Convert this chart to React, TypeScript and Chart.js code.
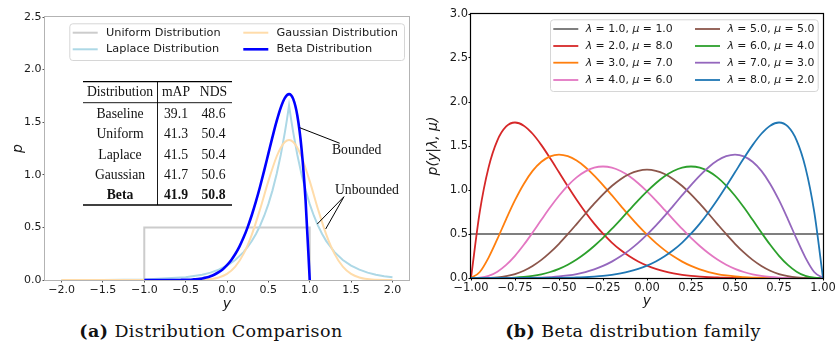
import React, { useEffect, useRef } from 'react';
import { Chart, registerables } from 'chart.js';
Chart.register(...registerables);

// ---------- Left panel data (Distribution Comparison) ----------
const leftXTicks = [-2.0, -1.5, -1.0, -0.5, 0.0, 0.5, 1.0, 1.5, 2.0];
const leftYTicks = [0.0, 0.5, 1.0, 1.5, 2.0, 2.5];
const leftLabels = ['Uniform Distribution', 'Laplace Distribution', 'Gaussian Distribution', 'Beta Distribution'];

const uniformX = [-1.0, -1.0, 1.0, 1.0];
const uniformY = [0.0, 0.5, 0.5, 0.0];

const laplaceX = [-2.0, -1.5, -1.0, -0.5, -0.3, -0.2, -0.1, 0.0, 0.1, 0.2, 0.25, 0.3, 0.35, 0.4, 0.45, 0.5, 0.55, 0.6, 0.65, 0.7, 0.725, 0.75, 0.775, 0.8, 0.85, 0.9, 0.95, 1.0, 1.05, 1.1, 1.15, 1.2, 1.3, 1.4, 1.5, 1.6, 1.7, 1.8, 1.9, 2.0];
const laplaceY = [0.0002, 0.001, 0.005, 0.026, 0.050, 0.070, 0.098, 0.136, 0.190, 0.265, 0.314, 0.370, 0.438, 0.517, 0.611, 0.721, 0.852, 1.007, 1.189, 1.405, 1.527, 1.660, 1.527, 1.405, 1.189, 1.007, 0.852, 0.721, 0.611, 0.517, 0.438, 0.370, 0.265, 0.190, 0.136, 0.098, 0.070, 0.050, 0.036, 0.026];

const gaussX = [-2.0, -1.0, -0.5, -0.25, -0.1, 0.0, 0.1, 0.2, 0.3, 0.4, 0.5, 0.6, 0.65, 0.7, 0.75, 0.8, 0.85, 0.9, 1.0, 1.1, 1.2, 1.3, 1.4, 1.5, 1.6, 1.75, 2.0];
const gaussY = [0.0, 0.0, 0.0002, 0.005, 0.024, 0.058, 0.127, 0.248, 0.432, 0.673, 0.940, 1.174, 1.258, 1.312, 1.330, 1.312, 1.258, 1.174, 0.940, 0.673, 0.432, 0.248, 0.127, 0.058, 0.024, 0.005, 0.0002];

// table
const tableHeader = ['Distribution', 'mAP', 'NDS'];
const tableMethods = ['Baseline', 'Uniform', 'Laplace', 'Gaussian', 'Beta'];
const tableMAP = ['39.1', '41.3', '41.5', '41.7', '41.9'];
const tableNDS = ['48.6', '50.4', '50.4', '50.6', '50.8'];

// ---------- Right panel data (Beta distribution family) ----------
const rightXTicks = [-1.0, -0.75, -0.5, -0.25, 0.0, 0.25, 0.5, 0.75, 1.0];
const rightYTicks = [0.0, 0.5, 1.0, 1.5, 2.0, 2.5, 3.0];
const lambdaVals = ['1.0', '2.0', '3.0', '4.0', '5.0', '6.0', '7.0', '8.0'];
const muVals = ['1.0', '8.0', '7.0', '6.0', '5.0', '4.0', '3.0', '2.0'];

const betaX = [-1.00, -0.95, -0.90, -0.85, -0.80, -0.75, -0.70, -0.65, -0.60, -0.55, -0.50, -0.45, -0.40, -0.35, -0.30, -0.25, -0.20, -0.15, -0.10, -0.05, 0.00, 0.05, 0.10, 0.15, 0.20, 0.25, 0.30, 0.35, 0.40, 0.45, 0.50, 0.55, 0.60, 0.65, 0.70, 0.75, 0.80, 0.85, 0.90, 0.95, 1.00];
const beta11 = [0.5, 0.5, 0.5, 0.5, 0.5, 0.5, 0.5, 0.5, 0.5, 0.5, 0.5, 0.5, 0.5, 0.5, 0.5, 0.5, 0.5, 0.5, 0.5, 0.5, 0.5, 0.5, 0.5, 0.5, 0.5, 0.5, 0.5, 0.5, 0.5, 0.5, 0.5, 0.5, 0.5, 0.5, 0.5, 0.5, 0.5, 0.5, 0.5, 0.5, 0.5];
const beta28 = [0, 0.754, 1.257, 1.564, 1.722, 1.767, 1.731, 1.639, 1.510, 1.360, 1.201, 1.042, 0.889, 0.747, 0.618, 0.503, 0.403, 0.318, 0.247, 0.188, 0.141, 0.103, 0.074, 0.052, 0.035, 0.023, 0.015, 0.009, 0.006, 0.003, 0.002, 0.001, 0, 0, 0, 0, 0, 0, 0, 0, 0];
const beta37 = [0, 0.068, 0.232, 0.444, 0.670, 0.884, 1.069, 1.217, 1.321, 1.382, 1.402, 1.384, 1.334, 1.259, 1.164, 1.056, 0.941, 0.823, 0.706, 0.595, 0.492, 0.399, 0.317, 0.246, 0.186, 0.137, 0.098, 0.068, 0.045, 0.029, 0.017, 0.010, 0.005, 0.003, 0.001, 0, 0, 0, 0, 0, 0];
const beta46 = [0, 0.004, 0.024, 0.072, 0.149, 0.252, 0.377, 0.516, 0.661, 0.803, 0.934, 1.050, 1.144, 1.212, 1.254, 1.267, 1.254, 1.216, 1.156, 1.077, 0.984, 0.882, 0.774, 0.664, 0.557, 0.456, 0.364, 0.281, 0.210, 0.151, 0.104, 0.068, 0.041, 0.023, 0.012, 0.005, 0.002, 0.001, 0, 0, 0];
const beta55 = [0, 0.000, 0.002, 0.007, 0.021, 0.045, 0.083, 0.137, 0.206, 0.291, 0.389, 0.498, 0.613, 0.730, 0.844, 0.951, 1.045, 1.123, 1.182, 1.218, 1.231, 1.218, 1.182, 1.123, 1.045, 0.951, 0.844, 0.730, 0.613, 0.498, 0.389, 0.291, 0.206, 0.137, 0.083, 0.045, 0.021, 0.007, 0.002, 0.000, 0];
const beta64 = [0, 0, 0, 0.001, 0.002, 0.005, 0.012, 0.023, 0.041, 0.068, 0.104, 0.151, 0.210, 0.281, 0.364, 0.456, 0.557, 0.664, 0.774, 0.882, 0.984, 1.077, 1.156, 1.216, 1.254, 1.267, 1.254, 1.212, 1.144, 1.050, 0.934, 0.803, 0.661, 0.516, 0.377, 0.252, 0.149, 0.072, 0.024, 0.004, 0];
const beta73 = [0, 0, 0, 0, 0, 0, 0.001, 0.003, 0.005, 0.010, 0.017, 0.029, 0.045, 0.068, 0.098, 0.137, 0.186, 0.246, 0.317, 0.399, 0.492, 0.595, 0.706, 0.823, 0.941, 1.056, 1.164, 1.259, 1.334, 1.384, 1.402, 1.382, 1.321, 1.217, 1.069, 0.884, 0.670, 0.444, 0.232, 0.068, 0];
const beta82 = [0, 0, 0, 0, 0, 0, 0, 0, 0, 0.001, 0.002, 0.003, 0.006, 0.009, 0.015, 0.023, 0.035, 0.052, 0.074, 0.103, 0.141, 0.188, 0.247, 0.318, 0.403, 0.503, 0.618, 0.747, 0.889, 1.042, 1.201, 1.360, 1.510, 1.639, 1.731, 1.767, 1.722, 1.564, 1.257, 0.754, 0];
const rightCurves = [beta11, beta28, beta37, beta46, beta55, beta64, beta73, beta82];
const rightColors = ['#7f7f7f', '#d62728', '#ff7f0e', '#e377c2', '#8c564b', '#2ca02c', '#9467bd', '#1f77b4'];

// ---------- helpers ----------
const SANS = '"DejaVu Sans"';
const TIMES = '"Liberation Serif"';
const zip = (xs: number[], ys: number[]) => xs.map((x, i) => ({ x, y: ys[i] }));
const fmt = (d: number) => (v: any) => {
  const s = Number(v).toFixed(d);
  return s.startsWith('-') ? '\u2212' + s.slice(1) : s;
};
const setTicks = (vals: number[]) => (s: any) => {
  s.ticks = vals.map((v) => ({ value: v }));
};

function drawMixed(ctx: CanvasRenderingContext2D, text: string, x: number, y: number, size: number) {
  let cx = x;
  for (const ch of text) {
    const it = ch === 'λ' || ch === 'μ';
    ctx.font = `${it ? 'italic ' : ''}${size}px ${SANS}`;
    ctx.fillText(ch, cx, y);
    cx += ctx.measureText(ch).width;
  }
}

function drawLegend(ctx: CanvasRenderingContext2D, datasets: any[], cfg: any) {
  const [x0, y0, x1, y1] = cfg.box;
  ctx.save();
  ctx.beginPath();
  (ctx as any).roundRect(x0 + 0.5, y0 + 0.5, x1 - x0, y1 - y0, 3);
  ctx.fillStyle = 'rgba(255,255,255,0.85)';
  ctx.fill();
  ctx.strokeStyle = '#d6d6d6';
  ctx.lineWidth = 1;
  ctx.stroke();
  datasets.forEach((ds: any, i: number) => {
    const col = Math.floor(i / cfg.rows);
    const row = i % cfg.rows;
    const x = cfg.colX[col];
    const y = cfg.rowY[row];
    ctx.strokeStyle = ds.borderColor;
    ctx.lineWidth = ds.borderWidth;
    ctx.beginPath();
    ctx.moveTo(x, y);
    ctx.lineTo(x + cfg.handleLen, y);
    ctx.stroke();
    ctx.fillStyle = '#1a1a1a';
    ctx.textBaseline = 'middle';
    ctx.textAlign = 'left';
    drawMixed(ctx, ds.label, x + cfg.textOff, y, cfg.size);
  });
  ctx.restore();
}

const leftOverlay = {
  id: 'leftOverlay',
  afterDatasetsDraw(chart: any) {
    const { ctx, chartArea: a, scales } = chart;
    const sx = scales.x;
    const sy = scales.y;
    ctx.save();
    // frame
    ctx.strokeStyle = '#b3b3b3';
    ctx.lineWidth = 1;
    ctx.strokeRect(a.left - 0.5, a.top - 0.5, a.right - a.left + 1, a.bottom - a.top + 1);

    // annotations
    ctx.strokeStyle = '#000';
    ctx.lineWidth = 1;
    const line = (p: number[], q: number[]) => {
      ctx.beginPath();
      ctx.moveTo(sx.getPixelForValue(p[0]), sy.getPixelForValue(p[1]));
      ctx.lineTo(sx.getPixelForValue(q[0]), sy.getPixelForValue(q[1]));
      ctx.stroke();
    };
    line([0.878, 1.448], [1.362, 1.30]);
    line([1.414, 0.792], [1.091, 0.532]);
    line([1.414, 0.792], [1.193, 0.485]);
    ctx.fillStyle = '#111';
    ctx.font = `13.7px ${TIMES}`;
    ctx.textBaseline = 'middle';
    ctx.textAlign = 'left';
    ctx.fillText('Bounded', sx.getPixelForValue(1.269), sy.getPixelForValue(1.229));
    ctx.fillText('Unbounded', sx.getPixelForValue(1.305), sy.getPixelForValue(0.856));

    // table
    const tl = 83, tr = 232, vx = 157.5;
    const topY = 81.7, headY = 102.7, botY = 205;
    ctx.lineWidth = 1.3;
    ctx.beginPath(); ctx.moveTo(tl, topY); ctx.lineTo(tr, topY); ctx.stroke();
    ctx.beginPath(); ctx.moveTo(tl, botY); ctx.lineTo(tr, botY); ctx.stroke();
    ctx.lineWidth = 0.9;
    ctx.beginPath(); ctx.moveTo(tl, headY); ctx.lineTo(tr, headY); ctx.stroke();
    ctx.beginPath(); ctx.moveTo(vx, topY); ctx.lineTo(vx, botY); ctx.stroke();
    const colCx = [120, 176, 213.5];
    ctx.textAlign = 'center';
    ctx.font = `13.7px ${TIMES}`;
    tableHeader.forEach((h, i) => ctx.fillText(h, colCx[i], 92.7));
    const rowY = [114.3, 134.5, 155, 175.2, 195.8];
    tableMethods.forEach((m, r) => {
      ctx.font = `${r === tableMethods.length - 1 ? 'bold ' : ''}13.7px ${TIMES}`;
      ctx.fillText(m, colCx[0], rowY[r]);
      ctx.fillText(tableMAP[r], colCx[1], rowY[r]);
      ctx.fillText(tableNDS[r], colCx[2], rowY[r]);
    });
    ctx.restore();

    drawLegend(ctx, chart.data.datasets, {
      box: [69.3, 23.3, 404, 60],
      colX: [72.7, 243.3],
      rowY: [32.7, 49.3],
      rows: 2,
      handleLen: 25,
      textOff: 33.3,
      size: 11.3,
    });
  },
};

const rightOverlay = {
  id: 'rightOverlay',
  afterDatasetsDraw(chart: any) {
    const { ctx, chartArea: a } = chart;
    ctx.save();
    ctx.strokeStyle = '#000';
    ctx.lineWidth = 1.2;
    ctx.strokeRect(a.left - 0.5, a.top - 0.5, a.right - a.left + 1, a.bottom - a.top + 1);
    ctx.restore();
    drawLegend(ctx, chart.data.datasets, {
      box: [130, 19.3, 397.7, 91],
      colX: [133.3, 275],
      rowY: [29, 46, 62.7, 80],
      rows: 4,
      handleLen: 25,
      textOff: 32.4,
      size: 10.9,
    });
  },
};

function axisCommon(tickFont: number, tickColor: string, tickLen: number, pad: number) {
  return {
    type: 'linear' as const,
    grid: { display: true, drawOnChartArea: false, drawTicks: true, tickLength: tickLen, color: tickColor, lineWidth: 1 },
    border: { display: false },
    ticks: { font: { family: 'DejaVu Sans', size: tickFont }, color: '#1a1a1a', padding: pad, autoSkip: false, maxRotation: 0, minRotation: 0 },
  };
}

export default function App() {
  const leftRef = useRef<HTMLCanvasElement>(null);
  const rightRef = useRef<HTMLCanvasElement>(null);

  useEffect(() => {
    const lc = axisCommon(11, '#555555', 2.5, 1);
    const left = new Chart(leftRef.current!, {
      type: 'line',
      data: {
        datasets: [
          { label: leftLabels[0], data: zip(uniformX, uniformY), borderColor: '#cccccc', borderWidth: 2, tension: 0, order: 4 },
          { label: leftLabels[1], data: zip(laplaceX, laplaceY), borderColor: '#add8e6', borderWidth: 2, tension: 0, order: 3 },
          { label: leftLabels[2], data: zip(gaussX, gaussY), borderColor: '#ffdcaa', borderWidth: 2, cubicInterpolationMode: 'monotone', order: 2 },
          { label: leftLabels[3], data: zip(betaX, beta82), borderColor: '#0000ff', borderWidth: 2.6, cubicInterpolationMode: 'monotone', order: 1 },
        ] as any,
      },
      options: {
        animation: false,
        responsive: false,
        maintainAspectRatio: false,
        layout: { padding: { top: 17, right: 11, left: 0, bottom: 0 } },
        elements: { point: { radius: 0, hoverRadius: 0 } },
        plugins: { legend: { display: false }, tooltip: { enabled: false } },
        scales: {
          x: {
            ...lc,
            min: -2.2,
            max: 2.2,
            afterBuildTicks: setTicks(leftXTicks),
            afterFit: (s: any) => { s.height = 35; },
            ticks: { ...lc.ticks, callback: fmt(1) },
            title: { display: true, text: 'y', color: '#1a1a1a', font: { family: 'DejaVu Sans', size: 14, style: 'italic' }, padding: { top: 0, bottom: 2 } },
          },
          y: {
            ...lc,
            min: 0,
            max: 2.5,
            afterBuildTicks: setTicks(leftYTicks),
            afterFit: (s: any) => { s.width = 45; },
            ticks: { ...lc.ticks, callback: fmt(1) },
            title: { display: true, text: 'p', color: '#1a1a1a', font: { family: 'DejaVu Sans', size: 14, style: 'italic' }, padding: { top: 10, bottom: 0 } },
          },
        } as any,
      },
      plugins: [leftOverlay],
    });

    const rc = axisCommon(11.5, '#000000', 2.5, 0.5);
    const right = new Chart(rightRef.current!, {
      type: 'line',
      data: {
        datasets: rightCurves.map((ys, i) => ({
          label: `λ = ${lambdaVals[i]}, μ = ${muVals[i]}`,
          data: zip(betaX, ys),
          borderColor: rightColors[i],
          borderWidth: i === 0 ? 2 : 1.8,
          cubicInterpolationMode: 'monotone',
          order: rightCurves.length - i,
        })) as any,
      },
      options: {
        animation: false,
        responsive: false,
        maintainAspectRatio: false,
        layout: { padding: { top: 14, right: 15, left: 0, bottom: 0 } },
        elements: { point: { radius: 0, hoverRadius: 0 } },
        plugins: { legend: { display: false }, tooltip: { enabled: false } },
        scales: {
          x: {
            ...rc,
            min: -1,
            max: 1,
            afterBuildTicks: setTicks(rightXTicks),
            afterFit: (s: any) => { s.height = 37; },
            ticks: { ...rc.ticks, callback: fmt(2) },
            title: { display: true, text: 'y', color: '#1a1a1a', font: { family: 'DejaVu Sans', size: 14, style: 'italic' }, padding: { top: 0, bottom: 5 } },
          },
          y: {
            ...rc,
            min: 0,
            max: 3,
            afterBuildTicks: setTicks(rightYTicks),
            afterFit: (s: any) => { s.width = 51; },
            ticks: { ...rc.ticks, callback: fmt(1) },
            title: { display: true, text: 'p(y|λ, μ)', color: '#1a1a1a', font: { family: 'DejaVu Sans', size: 14, style: 'italic' }, padding: { top: 5, bottom: 0 } },
          },
        } as any,
      },
      plugins: [rightOverlay],
    });

    return () => {
      left.destroy();
      right.destroy();
    };
  }, []);

  const capStyle: React.CSSProperties = {
    position: 'absolute',
    top: 320,
    width: 420,
    textAlign: 'center',
    fontFamily: '"DejaVu Serif", serif',
    fontSize: 17.5,
    lineHeight: '22px',
    letterSpacing: 0.4,
    color: '#111',
    whiteSpace: 'nowrap',
  };

  return (
    <div style={{ position: 'absolute', left: 0, top: 0, width: 838, height: 341, background: '#fff', overflow: 'hidden' }}>
      <canvas ref={leftRef} width={420} height={315} style={{ position: 'absolute', left: 0, top: 0, width: 420, height: 315 }} />
      <canvas ref={rightRef} width={418} height={315} style={{ position: 'absolute', left: 420, top: 0, width: 418, height: 315 }} />
      <div style={{ ...capStyle, left: 1 }}>
        <b>(a)</b> Distribution Comparison
      </div>
      <div style={{ ...capStyle, left: 423 }}>
        <b>(b)</b> Beta distribution family
      </div>
    </div>
  );
}
